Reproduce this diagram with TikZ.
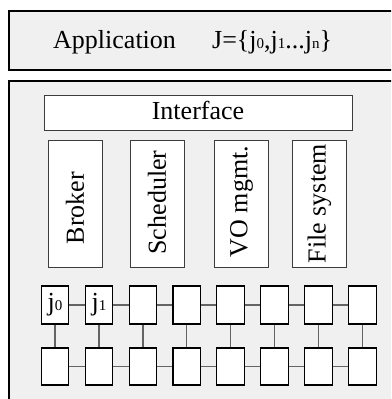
\documentclass[tikz,border=0pt]{standalone}
\usepackage{fontspec}
\setmainfont{Liberation Serif}
\definecolor{panel}{RGB}{240,240,240}
\definecolor{wire}{RGB}{100,100,100}
\definecolor{edge}{RGB}{60,60,60}
\newcommand\jsub[1]{{\fontsize{15}{15}\selectfont #1}}
\begin{document}
\begin{tikzpicture}[x=1pt,y=-1pt,
  panelbox/.style={draw=black, line width=2pt, fill=panel},
  modbox/.style={draw=edge, line width=1pt, fill=white, inner sep=0pt},
  txt/.style={font=\fontsize{26}{30}\selectfont, inner sep=0pt},
  cell/.style={draw=black, line width=1.1pt, fill=white, inner sep=0pt,
    minimum width=27.5pt, minimum height=38pt, font=\fontsize{26}{30}\selectfont},
  link/.style={draw=wire, line width=1.5pt}]
\useasboundingbox (0,0) rectangle (391,399);
\clip (0,0) rectangle (391,399);
\fill[white] (0,0) rectangle (391,399);

% application layer and middleware panel
\draw[panelbox] (9,11) rectangle (410,70);
\draw[panelbox] (9,81) rectangle (410,420);

\node[txt, anchor=base west] (app) at (53,48) {Application};
\node[txt, anchor=base west] (jobs) at (212,48) {J=\{j\jsub{0},j\jsub{1}...j\jsub{n}\}};

% interface bar
\node[modbox, minimum width=308pt, minimum height=35pt] (iface) at (198,112.5) {};
\node[txt, anchor=base] (ifacetxt) at (198,119.5) {Interface};

% service modules
\foreach \n/\x in {broker/75, sched/157, vo/241.5, fs/319.5}
  \node[modbox, minimum width=54pt, minimum height=127pt] (\n) at (\x,203.5) {};
\node[txt, rotate=90] (brokertxt) at (75,208) {Broker};
\node[txt, rotate=90] (schedtxt) at (157,202.5) {Scheduler};
\node[txt, rotate=90] (votxt) at (241.5,201.5) {VO mgmt.};
\node[txt, rotate=90] (fstxt) at (319.5,203.5) {File system};

% resource grid
\foreach \i in {0,...,7} {
  \node[cell] (t\i) at (55+43.9*\i,305) {};
  \node[cell, minimum height=37pt] (b\i) at (55+43.9*\i,366.5) {};
}
\node[txt] (j0) at (t0) {j\jsub{0}};
\node[txt] (j1) at (t1) {j\jsub{1}};
\foreach \i [count=\j] in {0,...,6} {
  \draw[link] (t\i) -- (t\j);
  \draw[link] (b\i) -- (b\j);
}
\foreach \i in {0,...,7}
  \draw[link] (t\i) -- (b\i);
\end{tikzpicture}
\end{document}
